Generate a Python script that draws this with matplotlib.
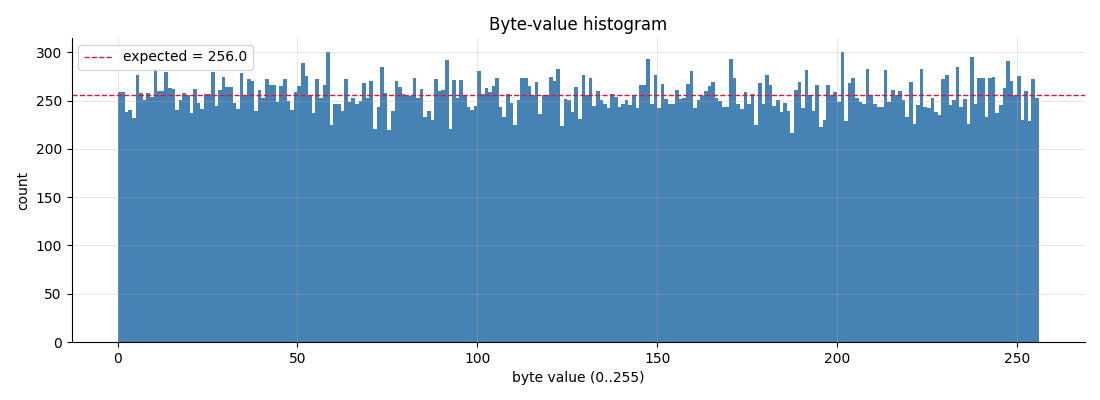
import matplotlib
matplotlib.use("Agg")
import matplotlib.pyplot as plt
import numpy as np

# counts per byte value
byte_counts = [
    259, 259, 238, 240, 232, 277, 258, 251, 258, 254, 283, 260, 260, 280, 263, 262,
    240, 251, 258, 256, 237, 262, 248, 241, 257, 257, 280, 245, 261, 275, 264, 264,
    248, 241, 279, 255, 273, 270, 239, 261, 253, 273, 266, 266, 249, 265, 273, 250,
    240, 259, 265, 289, 276, 256, 237, 273, 253, 266, 300, 225, 247, 247, 239, 273,
    249, 253, 247, 250, 268, 253, 270, 221, 243, 285, 258, 220, 239, 270, 264, 257,
    255, 255, 274, 253, 262, 233, 239, 230, 272, 260, 261, 292, 221, 271, 253, 271,
    255, 243, 240, 245, 281, 257, 263, 259, 265, 274, 243, 233, 257, 248, 225, 251,
    274, 274, 265, 256, 269, 236, 256, 256, 275, 270, 283, 224, 252, 251, 238, 264,
    231, 277, 256, 274, 245, 260, 251, 247, 242, 257, 254, 243, 247, 251, 246, 256,
    242, 266, 266, 293, 247, 277, 242, 267, 252, 247, 247, 261, 252, 253, 267, 281,
    242, 251, 255, 260, 265, 269, 253, 250, 244, 244, 293, 274, 247, 241, 259, 247,
    257, 225, 268, 247, 277, 266, 245, 251, 238, 248, 239, 217, 261, 269, 242, 282,
    256, 239, 266, 223, 230, 266, 256, 259, 249, 300, 229, 268, 274, 253, 249, 247,
    283, 256, 247, 243, 243, 282, 249, 261, 256, 260, 251, 233, 269, 226, 246, 283,
    244, 242, 253, 238, 235, 273, 277, 246, 251, 285, 243, 252, 226, 295, 247, 274,
    274, 233, 274, 275, 237, 246, 263, 291, 270, 256, 276, 230, 260, 229, 272, 253,
]
byte_values = np.arange(256)
expected = 256.0

fig, ax = plt.subplots(figsize=(11, 4), dpi=100)

ax.bar(byte_values, byte_counts, width=1.0, align='edge', color='steelblue', linewidth=0)
ax.axhline(expected, color='crimson', linestyle='--', linewidth=1, label=f'expected = {expected}')

ax.set_title('Byte-value histogram')
ax.set_xlabel('byte value (0..255)')
ax.set_ylabel('count')
ax.grid(True, alpha=0.3)
ax.spines['top'].set_visible(False)
ax.spines['right'].set_visible(False)
ax.legend(loc='upper left')

fig.subplots_adjust(left=0.065, right=0.986, top=0.905, bottom=0.145)
fig.savefig('out.png')
